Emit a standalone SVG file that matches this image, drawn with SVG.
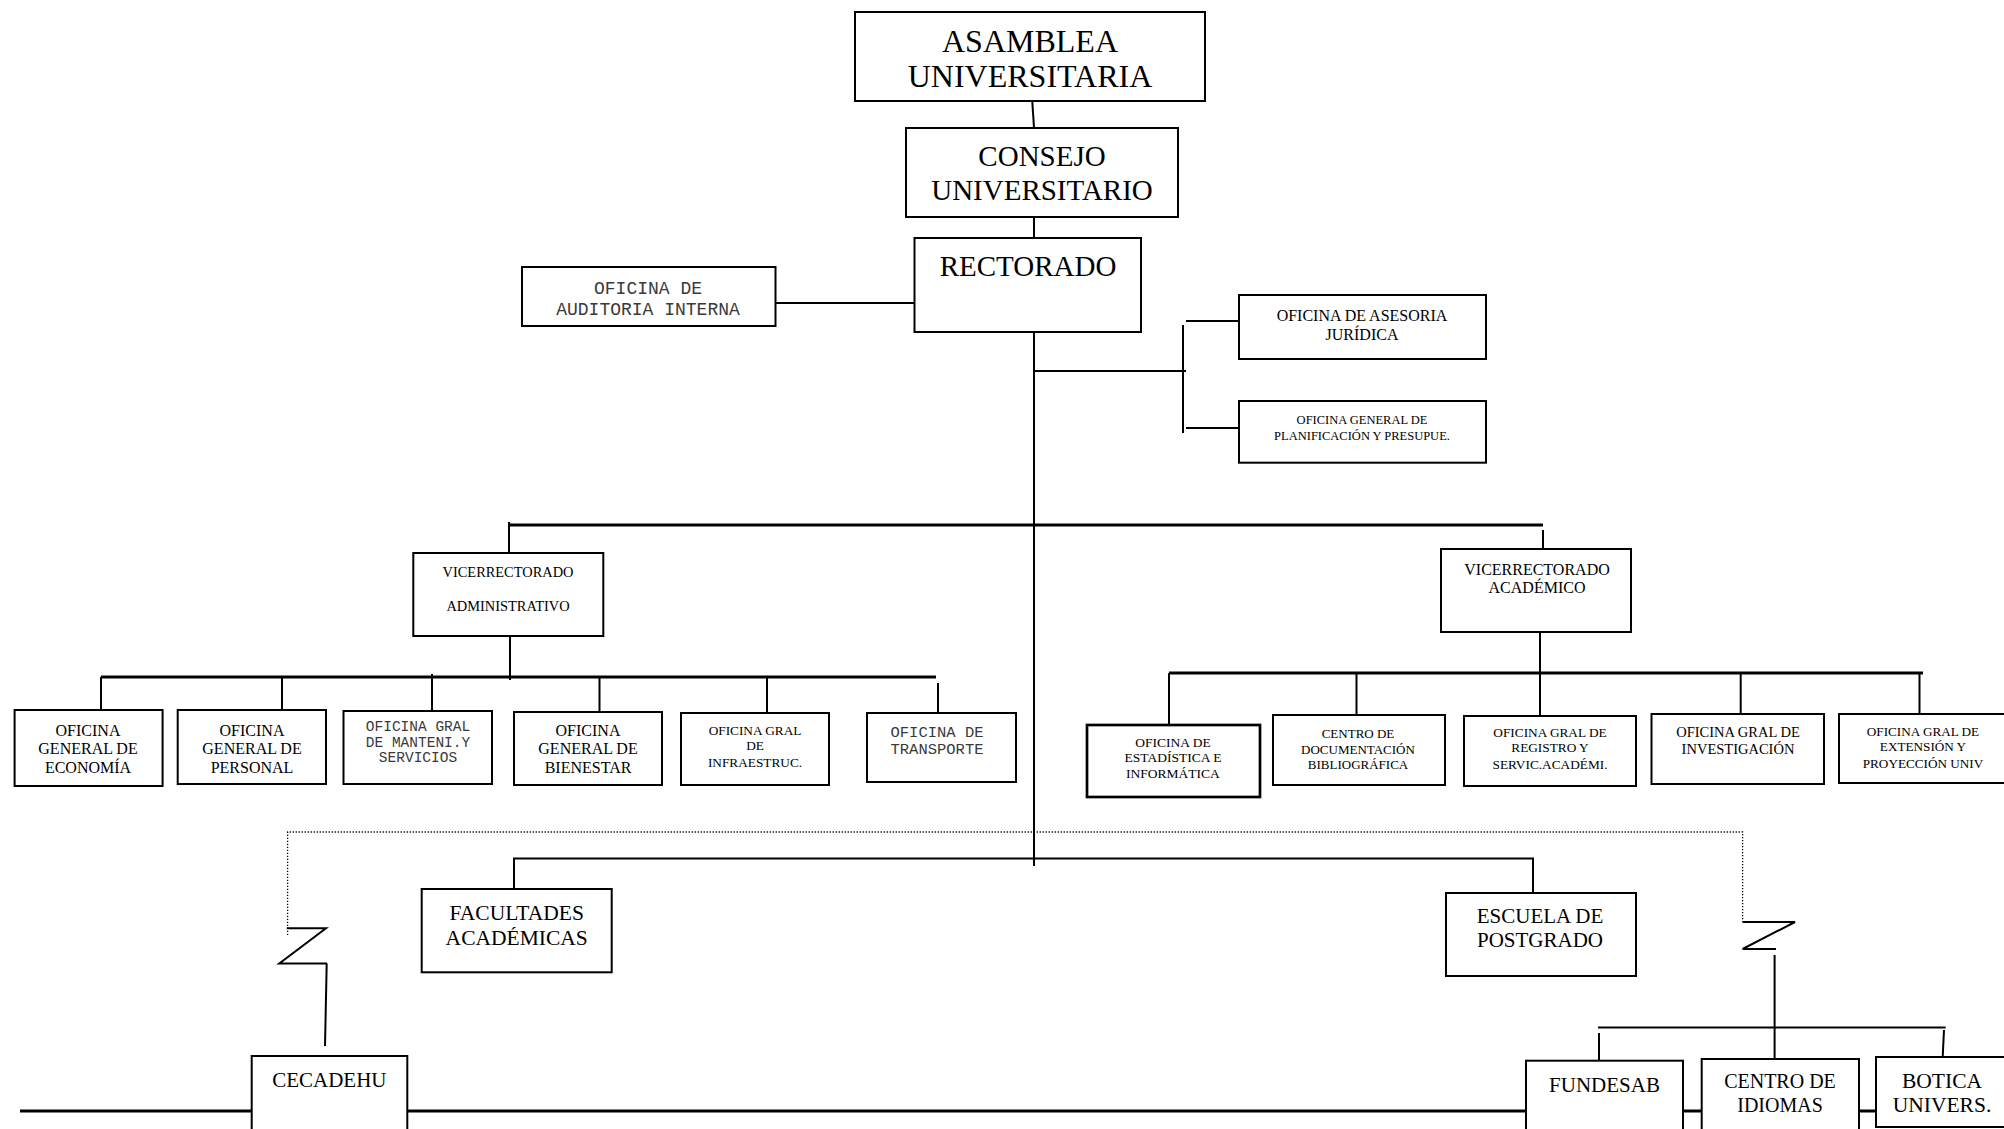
<svg xmlns="http://www.w3.org/2000/svg" width="2004" height="1129" viewBox="0 0 2004 1129">
<style>
  .box { fill: #fff; stroke: #000; stroke-width: 2; }
  .thick { stroke-width: 2.7; }
  .ln { stroke: #000; stroke-width: 2; fill: none; }
  .bar { stroke: #000; stroke-width: 3; fill: none; }
  .dot { stroke: #000; stroke-width: 1.3; fill: none; stroke-dasharray: 1.3 1.7; }
  .t { font-family: "Liberation Serif", "Times New Roman", serif; fill: #000; text-anchor: middle; }
  .m { font-family: "Liberation Mono", "Courier New", monospace; fill: #3a3a3a; text-anchor: middle; font-weight: normal; }
</style>
<rect width="2004" height="1129" fill="#fff"/>

<g id="connectors">
  <line class="ln" x1="1032" y1="97" x2="1034" y2="128"/>
  <line class="ln" x1="1034" y1="217" x2="1034" y2="243"/>
  <line class="ln" x1="775" y1="303" x2="914" y2="303"/>
  <line class="ln" x1="1034" y1="328" x2="1034" y2="866"/>
  <line class="ln" x1="1034" y1="371" x2="1186" y2="371"/>
  <line class="ln" x1="1183" y1="325" x2="1183" y2="433"/>
  <line class="ln" x1="1186" y1="321" x2="1241" y2="321"/>
  <line class="ln" x1="1186" y1="428" x2="1241" y2="428"/>
  <line class="bar" x1="509" y1="525" x2="1543" y2="525"/>
  <line class="ln" x1="509" y1="522" x2="509" y2="553"/>
  <line class="ln" x1="1543" y1="530" x2="1543" y2="549"/>
  <line class="ln" x1="510" y1="636" x2="510" y2="680"/>
  <line class="bar" x1="101" y1="677" x2="936" y2="677"/>
  <line class="ln" x1="101" y1="677" x2="101" y2="710"/>
  <line class="ln" x1="282" y1="677" x2="282" y2="710"/>
  <line class="ln" x1="432" y1="674" x2="432" y2="715"/>
  <line class="ln" x1="599.5" y1="677" x2="599.5" y2="712"/>
  <line class="ln" x1="767" y1="677" x2="767" y2="713"/>
  <line class="ln" x1="938" y1="683" x2="938" y2="713"/>
  <line class="ln" x1="1540" y1="632" x2="1540" y2="673"/>
  <line class="bar" x1="1169" y1="673" x2="1923" y2="673"/>
  <line class="ln" x1="1169" y1="673" x2="1169" y2="725"/>
  <line class="ln" x1="1356.5" y1="673" x2="1356.5" y2="715"/>
  <line class="ln" x1="1540" y1="673" x2="1540" y2="716"/>
  <line class="ln" x1="1740.7" y1="673" x2="1740.7" y2="714"/>
  <line class="ln" x1="1919.5" y1="673" x2="1919.5" y2="714"/>
  <polyline class="dot" points="287.6,935 287.6,832 1742.6,832 1742.6,922"/>
  <polyline class="ln" points="286.7,928.3 326,928.3 279.3,963.5 327,963.5"/>
  <line class="ln" x1="326.7" y1="963.5" x2="325" y2="1046"/>
  <polyline class="ln" points="1742.6,922 1795,922 1742.6,949 1776,949"/>
  <line class="ln" x1="1774.6" y1="955" x2="1774.6" y2="1059"/>
  <polyline class="ln" points="514,892 514,858.5 1533,858.5 1533,895"/>
  <line class="bar" x1="20" y1="1111" x2="252" y2="1111"/>
  <line class="bar" x1="407" y1="1111" x2="1526" y2="1111"/>
  <line class="bar" x1="1683" y1="1111" x2="1702" y2="1111"/>
  <line class="bar" x1="1859" y1="1111" x2="1876" y2="1111"/>
  <line class="ln" x1="1598" y1="1027.5" x2="1945.7" y2="1027.5"/>
  <line class="ln" x1="1599" y1="1033" x2="1599" y2="1060"/>
  <line class="ln" x1="1944" y1="1030" x2="1942.7" y2="1057"/>
</g>

<g id="asamblea">
  <rect class="box" x="855" y="12" width="350" height="89"/>
  <text class="t" x="1030" y="52" font-size="32">ASAMBLEA</text>
  <text class="t" x="1030" y="87" font-size="32">UNIVERSITARIA</text>
</g>
<g id="consejo">
  <rect class="box" x="906" y="128" width="272" height="89"/>
  <text class="t" x="1042" y="166" font-size="29">CONSEJO</text>
  <text class="t" x="1042" y="200" font-size="29">UNIVERSITARIO</text>
</g>
<g id="rectorado">
  <rect class="box" x="914.5" y="238" width="226.5" height="94"/>
  <text class="t" x="1028" y="276" font-size="29">RECTORADO</text>
</g>
<g id="auditoria">
  <rect class="box" x="522" y="267" width="253.5" height="59"/>
  <text class="m" x="648" y="294" font-size="18">OFICINA DE</text>
  <text class="m" x="648" y="315" font-size="18">AUDITORIA INTERNA</text>
</g>
<g id="asesoria">
  <rect class="box" x="1239" y="295" width="247" height="64"/>
  <text class="t" x="1362" y="320.7" font-size="16">OFICINA DE ASESORIA</text>
  <text class="t" x="1362" y="340" font-size="16">JURÍDICA</text>
</g>
<g id="planificacion">
  <rect class="box" x="1239" y="401" width="247" height="61.7"/>
  <text class="t" x="1362" y="424" font-size="12.5">OFICINA GENERAL DE</text>
  <text class="t" x="1362" y="440" font-size="12.5">PLANIFICACIÓN Y PRESUPUE.</text>
</g>
<g id="vice-admin">
  <rect class="box" x="413.3" y="553" width="190" height="83"/>
  <text class="t" x="508" y="577" font-size="14.4">VICERRECTORADO</text>
  <text class="t" x="508" y="611" font-size="14.4">ADMINISTRATIVO</text>
</g>
<g id="vice-acad">
  <rect class="box" x="1441" y="549" width="190" height="83"/>
  <text class="t" x="1537" y="575" font-size="16">VICERRECTORADO</text>
  <text class="t" x="1537" y="593" font-size="16">ACADÉMICO</text>
</g>

<g id="economia">
  <rect class="box" x="14.6" y="710" width="148" height="76"/>
  <text class="t" x="88" y="736" font-size="16">OFICINA</text>
  <text class="t" x="88" y="754" font-size="16">GENERAL DE</text>
  <text class="t" x="88" y="772.7" font-size="16">ECONOMÍA</text>
</g>
<g id="personal">
  <rect class="box" x="177.7" y="710" width="148.3" height="74"/>
  <text class="t" x="252" y="736" font-size="16">OFICINA</text>
  <text class="t" x="252" y="754" font-size="16">GENERAL DE</text>
  <text class="t" x="252" y="772.7" font-size="16">PERSONAL</text>
</g>
<g id="mantenimiento">
  <rect class="box" x="343.5" y="711" width="148.5" height="73"/>
  <text class="m" x="418" y="731" font-size="14.5">OFICINA GRAL</text>
  <text class="m" x="418" y="746.5" font-size="14.5">DE MANTENI.Y</text>
  <text class="m" x="418" y="762" font-size="14.5">SERVICIOS</text>
</g>
<g id="bienestar">
  <rect class="box" x="514" y="712" width="148" height="73"/>
  <text class="t" x="588" y="736" font-size="16">OFICINA</text>
  <text class="t" x="588" y="754" font-size="16">GENERAL DE</text>
  <text class="t" x="588" y="773" font-size="16">BIENESTAR</text>
</g>
<g id="infraestructura">
  <rect class="box" x="681" y="713" width="148" height="72"/>
  <text class="t" x="755" y="735" font-size="13.3">OFICINA GRAL</text>
  <text class="t" x="755" y="750" font-size="13.3">DE</text>
  <text class="t" x="755" y="767" font-size="13.3">INFRAESTRUC.</text>
</g>
<g id="transporte">
  <rect class="box" x="867" y="713" width="149" height="69"/>
  <text class="m" x="937" y="737" font-size="15.5">OFICINA DE</text>
  <text class="m" x="937" y="754" font-size="15.5">TRANSPORTE</text>
</g>

<g id="estadistica">
  <rect class="box thick" x="1087" y="725" width="173" height="72"/>
  <text class="t" x="1173" y="747" font-size="13.5">OFICINA DE</text>
  <text class="t" x="1173" y="762" font-size="13.5">ESTADÍSTICA E</text>
  <text class="t" x="1173" y="778" font-size="13.5">INFORMÁTICA</text>
</g>
<g id="documentacion">
  <rect class="box" x="1273" y="715" width="172" height="70"/>
  <text class="t" x="1358" y="738" font-size="13">CENTRO DE</text>
  <text class="t" x="1358" y="754" font-size="13">DOCUMENTACIÓN</text>
  <text class="t" x="1358" y="769" font-size="13">BIBLIOGRÁFICA</text>
</g>
<g id="registro">
  <rect class="box" x="1464" y="716" width="172" height="70"/>
  <text class="t" x="1550" y="737" font-size="13.3">OFICINA GRAL DE</text>
  <text class="t" x="1550" y="752" font-size="13.3">REGISTRO Y</text>
  <text class="t" x="1550" y="769" font-size="13.3">SERVIC.ACADÉMI.</text>
</g>
<g id="investigacion">
  <rect class="box" x="1651.5" y="714" width="172.5" height="70"/>
  <text class="t" x="1738" y="737" font-size="14.5">OFICINA GRAL DE</text>
  <text class="t" x="1738" y="754" font-size="14.5">INVESTIGACIÓN</text>
</g>
<g id="extension">
  <rect class="box" x="1839" y="714" width="172" height="69"/>
  <text class="t" x="1923" y="736" font-size="13.2">OFICINA GRAL DE</text>
  <text class="t" x="1923" y="751" font-size="13.2">EXTENSIÓN Y</text>
  <text class="t" x="1923" y="768" font-size="13.2">PROYECCIÓN UNIV</text>
</g>

<g id="facultades">
  <rect class="box" x="421.7" y="889" width="190" height="83.3"/>
  <text class="t" x="516.7" y="920" font-size="21.5">FACULTADES</text>
  <text class="t" x="516.7" y="945" font-size="21.5">ACADÉMICAS</text>
</g>
<g id="postgrado">
  <rect class="box" x="1446" y="893" width="190" height="83"/>
  <text class="t" x="1540" y="923" font-size="21">ESCUELA DE</text>
  <text class="t" x="1540" y="947" font-size="21">POSTGRADO</text>
</g>
<g id="cecadehu">
  <rect class="box" x="251.7" y="1056" width="155.6" height="90"/>
  <text class="t" x="329.3" y="1086.7" font-size="21">CECADEHU</text>
</g>
<g id="fundesab">
  <rect class="box" x="1526" y="1060.7" width="157" height="90"/>
  <text class="t" x="1604.5" y="1091.7" font-size="21">FUNDESAB</text>
</g>
<g id="idiomas">
  <rect class="box" x="1701.7" y="1059" width="157.3" height="90"/>
  <text class="t" x="1780" y="1087.7" font-size="20">CENTRO DE</text>
  <text class="t" x="1780" y="1111.7" font-size="20">IDIOMAS</text>
</g>
<g id="botica">
  <rect class="box" x="1876" y="1057" width="140" height="70"/>
  <text class="t" x="1942" y="1087.7" font-size="21.5">BOTICA</text>
  <text class="t" x="1942" y="1111.7" font-size="21.5">UNIVERS.</text>
</g>
</svg>
